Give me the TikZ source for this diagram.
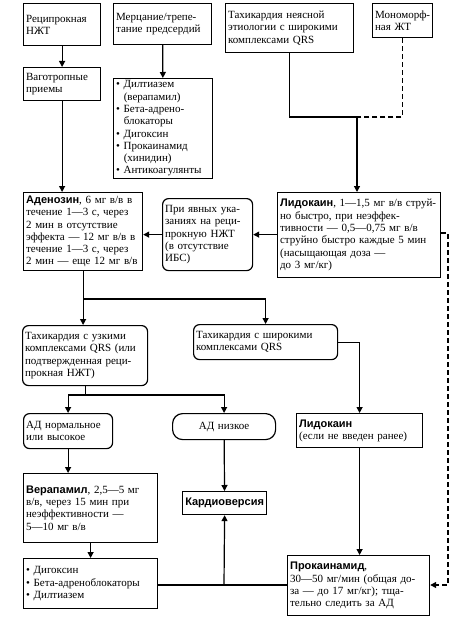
\documentclass[tikz,border=0pt]{standalone}
\usepackage{fontspec}
\setmainfont{Liberation Serif}
\newfontfamily\drugfont{Liberation Sans}
\usetikzlibrary{arrows.meta}
\newcommand{\drug}[1]{{\drugfont\bfseries #1}}

\begin{document}
\begin{tikzpicture}[x=1pt, y=-1pt, line width=1.2pt,
    >={Triangle[width=6pt,length=6pt]},
    every node/.style={font=\fontsize{11}{12.3}\selectfont},
    box/.style={draw, anchor=north west, align=left, inner xsep=2.5pt, inner ysep=2pt},
    rbox/.style={box, rounded corners=6pt}]
    \useasboundingbox (0,0) rectangle (474,618);

    % top row
    \node[box, text width=72pt, minimum height=42pt] (rec) at (23,3) {Реципрокная\\НЖТ};
    \node[box, text width=93pt, minimum height=41pt] (fib) at (113,3) {Мерцание/трепе-\\тание предсердий};
    \node[box, text width=123pt, minimum height=49pt] (wide) at (225,3) {Тахикардия неясной\\этиологии с широкими\\комплексами QRS};
    \node[box, text width=55pt, minimum height=34pt] (mono) at (372,3) {Мономорф-\\ная ЖТ};

    \node[box, text width=72pt, minimum height=33pt] (vag) at (23,67) {Ваготропные\\приемы};
    \draw[->] (rec) -- (vag);
    \node[box, text width=94pt, minimum height=90pt] (drugs) at (113,78) {• Дилтиазем\\\hspace*{0.7em}(верапамил)\\• Бета-адрено-\\\hspace*{0.7em}блокаторы\\• Дигоксин\\• Прокаинамид\\\hspace*{0.7em}(хинидин)\\• Антикоагулянты};
    \draw[->] (fib) -- (drugs);

    % adenosine / lidocaine row
    \node[box, text width=114pt, minimum height=78pt] (aden) at (23,192) {\drug{Аденозин}, 6 мг в/в в\\течение 1—3 с, через\\2 мин в отсутствие\\эффекта — 12 мг в/в в\\течение 1—3 с, через\\2 мин — еще 12 мг в/в};
    \draw[->] (vag) -- (vag |- aden.north);
    \node[rbox, text width=85pt, minimum height=72pt] (hint) at (162,198) {При явных ука-\\заниях на реци-\\прокную НЖТ\\(в отсутствие\\ИБС)};
    \node[box, text width=158pt, minimum height=85pt] (lido) at (277,192) {\drug{Лидокаин}, 1—1,5 мг в/в струй-\\но быстро, при неэффек-\\тивности — 0,5—0,75 мг в/в\\струйно быстро каждые 5 мин\\(насыщающая доза —\\до 3 мг/кг)};

    \coordinate (j1) at (357,117);
    \draw (wide) |- (j1);
    \draw[dash pattern=on 5pt off 3pt] (mono) |- (j1);
    \draw[->] (j1) -- (j1 |- lido.north);
    \draw[->] (lido.west |- hint) -- (hint.east);
    \draw[->] (hint) -- (aden.east |- hint);

    % QRS split
    \node[rbox, text width=120pt, minimum height=60pt] (narrow) at (22,325) {Тахикардия с узкими\\комплексами QRS (или\\подтвержденная реци-\\прокная НЖТ)};
    \node[rbox, text width=139pt, minimum height=35pt] (wideq) at (193,324) {Тахикардия с широкими\\комплексами QRS};
    \coordinate (j2) at (83,299);
    \draw[->] (aden.south) -- (aden.south |- narrow.north);
    \draw[->] (aden.south |- j2) -| (wideq);

    \node[rbox, text width=84pt, minimum height=35pt] (bpn) at (23,413) {АД нормальное\\или высокое};
    \node[rbox, rounded corners=10pt, align=center, text width=98pt, minimum height=26pt] (bpl) at (172,413) {АД низкое};
    \node[box, text width=121pt, minimum height=34pt] (lido2) at (296,413) {\drug{Лидокаин}\\(если не введен ранее)};
    \coordinate (j3) at (84,395);
    \draw (narrow) -- (narrow.south |- j3);
    \draw[->] (j3) -| (bpn);
    \draw[->] (j3) -| (bpl);
    \draw[->] (wideq) -| (lido2);

    % bottom
    \node[box, text width=129pt, minimum height=69pt] (vera) at (23,473) {\drug{Верапамил}, 2,5—5 мг\\в/в, через 15 мин при\\неэффективности —\\5—10 мг в/в};
    \draw[->] (bpn) -- (bpn |- vera.north);
    \node[box, align=center, text width=79pt, minimum height=23pt] (cardio) at (182,491) {\drug{Кардиоверсия}};
    \draw[->] (bpl) -- (cardio);
    \node[box, text width=129pt, minimum height=50pt] (list) at (23,558) {• Дигоксин\\• Бета-адреноблокаторы\\• Дилтиазем};
    \draw[->] (vera) -- (list);
    \node[box, text width=137pt, minimum height=60pt] (proc) at (287,555) {\drug{Прокаинамид},\\30—50 мг/мин (общая до-\\за — до 17 мг/кг); тща-\\тельно следить за АД};
    \draw[->] (lido2) -- (lido2 |- proc.north);

    \coordinate (j4) at (224,585);
    \draw (list.east |- j4) -- (proc.west |- j4);
    \draw[->] (j4) -- (cardio.south);
    \coordinate (j5) at (448,233);
    \draw[->, dash pattern=on 5pt off 3pt] (lido.east |- j5) -- (j5) |- (proc.east |- j4);
\end{tikzpicture}
\end{document}
